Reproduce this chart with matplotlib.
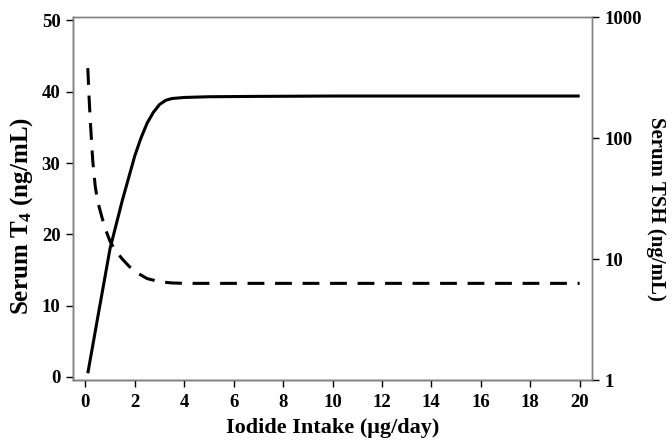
import matplotlib
matplotlib.use("Agg")
import matplotlib.pyplot as plt
from matplotlib.ticker import FixedLocator, NullLocator

plt.rcParams["font.family"] = ["Liberation Serif", "DejaVu Serif"]
plt.rcParams["font.weight"] = "bold"
plt.rcParams["mathtext.default"] = "regular"

# values
intake_t4 = [0.1, 0.5, 1.0, 1.5, 2.0, 2.25, 2.5, 2.75, 3.0, 3.25, 3.5, 4.0, 5.0, 7.0, 10.0, 20.0]
serum_t4 = [0.5, 8.3, 18.0, 24.8, 31.0, 33.5, 35.6, 37.1, 38.2, 38.8, 39.05, 39.2, 39.3, 39.35, 39.4, 39.4]

intake_tsh = [0.1, 0.15, 0.2, 0.25, 0.3, 0.4, 0.5, 0.65, 0.8, 1.0, 1.25, 1.5, 1.75, 2.0, 2.5, 3.0, 3.5, 4.0, 20.0]
serum_tsh = [380, 220, 140, 95, 65, 40, 30, 23, 18, 14, 11.5, 10, 8.8, 7.9, 6.9, 6.5, 6.35, 6.3, 6.3]

x_ticks = list(range(0, 21, 2))
t4_ticks = [0, 10, 20, 30, 40, 50]
tsh_ticks = [1, 10, 100, 1000]

fig = plt.figure(figsize=(6.72, 4.41), dpi=100)
ax = fig.add_axes([0.1086, 0.1383, 0.7724, 0.8225])
ax2 = ax.twinx()

ax.plot(intake_t4, serum_t4, color="black", lw=2.2, solid_capstyle="butt")
ax2.plot(intake_tsh, serum_tsh, color="black", lw=2.2, dashes=(5.5, 3.5))

ax.set_xlim(-0.5, 20.5)
ax.set_ylim(-0.45, 50.45)
ax2.set_yscale("log")
ax2.set_ylim(1, 1000)

ax.set_xticks(x_ticks)
ax.set_yticks(t4_ticks)
ax2.yaxis.set_major_locator(FixedLocator(tsh_ticks))
ax2.yaxis.set_minor_locator(NullLocator())
ax2.set_yticklabels([str(v) for v in tsh_ticks])

for a in (ax, ax2):
    a.tick_params(labelsize=13.5, length=5, width=1, direction="out", pad=4)
    for s in a.spines.values():
        s.set_color("#808080")
        s.set_linewidth(1)
ax.spines["left"].set_color("#404040")
ax.spines["bottom"].set_color("#202020")
ax.tick_params(axis="x", pad=5)

# axis titles placed in figure pixels to match the reference
W, H = 672, 441
fig.text(333 / W, 1 - 428 / H, "Iodide Intake (\u03bcg/day)", fontsize=16, fontweight="bold",
         ha="center", va="center")
fig.text(22 / W, 1 - 216 / H, "Serum T$_4$ (ng/mL)", fontsize=18, fontweight="bold",
         rotation=90, ha="center", va="center")
fig.text(656 / W, 1 - 209 / H, "Serum TSH (ng/mL)", fontsize=15, fontweight="bold",
         rotation=-90, ha="center", va="center")

fig.savefig("out.png", dpi=100)
